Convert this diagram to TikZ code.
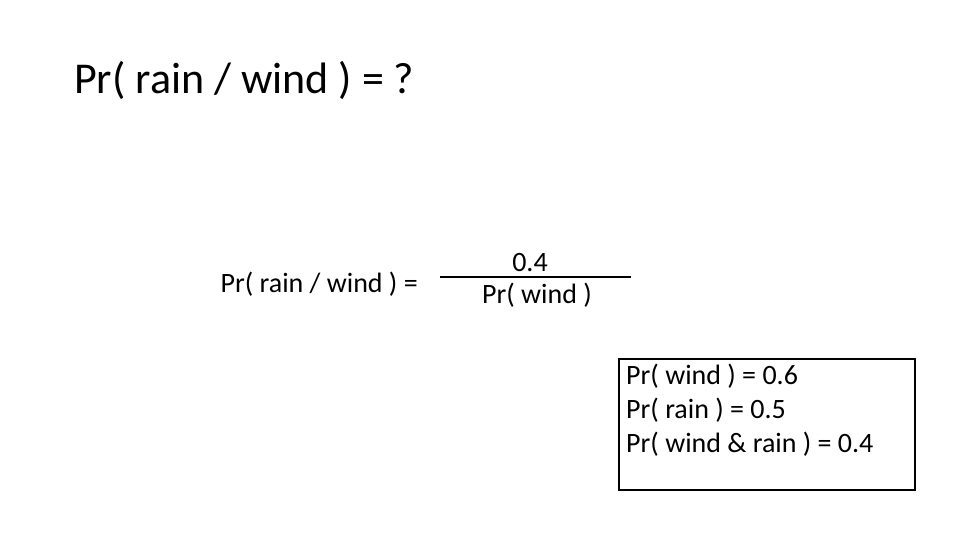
\documentclass[tikz,border=0pt]{standalone}
\usepackage{fontspec}
\setmainfont{Carlito}
\usetikzlibrary{positioning}
\tikzset{
    eqtext/.style={font=\fontsize{28}{34}\selectfont, inner sep=0pt},
    givenbox/.style={draw, line width=2pt, minimum width=296pt, minimum height=131pt, anchor=north west}
}
\begin{document}
\begin{tikzpicture}[x=1pt, y=-1pt]
    \useasboundingbox (0,0) rectangle (960,540);
    % title
    \node[anchor=west, inner sep=0pt, font=\fontsize{44}{52}\selectfont] (title) at (74,80) {Pr( rain / wind ) = ?};
    
    % fraction
    \node[eqtext, anchor=east] (lhs) at (418,284) {Pr( rain / wind ) =};
    \node[eqtext] (num) at (530,263) {0.4};
    \node[eqtext] (den) at (537,295) {Pr( wind )};
    \coordinate (barL) at (440,277);
    \coordinate (barR) at (631,277);
    \draw[line width=2pt] (barL) -- (barR);
    
    % given values
    \node[givenbox] (given) at (618,358) {};
    \node[eqtext, anchor=north west, align=left] (vals) at (626,364)
        {Pr( wind ) = 0.6\\Pr( rain ) = 0.5\\Pr( wind \& rain ) = 0.4};
\end{tikzpicture}
\end{document}
